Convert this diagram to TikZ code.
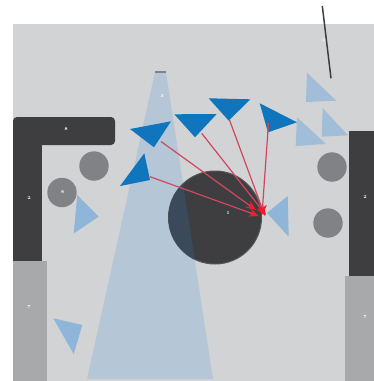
\documentclass[tikz,border=0pt]{standalone}
\usetikzlibrary{arrows.meta}
\definecolor{roombg}{HTML}{D1D3D5}
\definecolor{wall}{HTML}{3E3E40}
\definecolor{block}{HTML}{A7A9AB}
\definecolor{pillar}{HTML}{808285}
\definecolor{cone}{HTML}{B5C7D6}
\definecolor{conedark}{HTML}{3A4A5B}
\definecolor{agent}{HTML}{0F75BC}
\definecolor{ghost}{HTML}{8FB5D9}
\definecolor{ghostpale}{HTML}{A2BDD8}
\definecolor{ray}{HTML}{D2475F}
\definecolor{rayhead}{HTML}{EE1C2E}
\tikzset{
  tag/.style={white,font=\fontsize{4.5}{5}\selectfont\bfseries,inner sep=0pt},
  rayline/.style={ray,line width=1.2pt,-{Stealth[rayhead,length=10pt,width=8pt]}},
}
\begin{document}
\begin{tikzpicture}[x=1pt,y=-1pt]
\useasboundingbox (0,0) rectangle (374,381);
\fill[roombg] (13,24) rectangle (374,381);
\fill[cone] (155,72) -- (166,72) -- (213,379) -- (87,379) -- cycle;
\draw[pillar,line width=1.5pt] (155,72) -- (166,72);
\fill[wall,rounded corners=4pt] (13,117) rectangle (115,145);
\fill[wall] (13,125) rectangle (42,261);
\fill[wall] (349,131) rectangle (374,276);
\fill[block] (13,261) rectangle (47,381);
\fill[block] (345,276) rectangle (374,381);
\fill[pillar] (94,166) circle (14.7);
\fill[pillar] (62,192.5) circle (14.7);
\fill[pillar] (332,167) circle (14.7);
\fill[pillar] (328,223) circle (14.7);
\draw[fill=wall,draw=wall!88!white,line width=1pt] (215,217.5) circle (46.5);
\begin{scope}
  \clip (155,72) -- (166,72) -- (213,379) -- (87,379) -- cycle;
  \fill[conedark] (215,217.5) circle (46.5);
\end{scope}
\draw[wall,line width=1.5pt] (322.3,6) -- (331,78.3);
\fill[ghostpale] (307,72.7) -- (336.3,100.7) -- (306,102) -- cycle;
\fill[ghostpale] (322.7,108.3) -- (348,135.3) -- (321.7,136.7) -- cycle;
\fill[ghostpale] (297,117.3) -- (326,144) -- (295.7,146) -- cycle;
\fill[ghost] (77.3,195) -- (98.7,216.7) -- (73.7,233.3) -- cycle;
\fill[ghost] (53.3,318.3) -- (82.3,325) -- (73.7,354) -- cycle;
\fill[ghost] (287.7,196) -- (288.7,236.7) -- (267,213) -- cycle;
\fill[agent] (130,129) -- (171,121.3) -- (154,147.3) -- cycle;
\fill[agent] (120,186) -- (144.3,153.3) -- (150,180) -- cycle;
\fill[agent] (174.3,114.3) -- (216.7,114) -- (195,137.3) -- cycle;
\fill[agent] (208.7,98.3) -- (250.3,99.3) -- (228.7,120.7) -- cycle;
\fill[agent] (259.7,103.3) -- (297,122.3) -- (268,132.3) -- cycle;
\coordinate (tailA) at (150,176.7);
\coordinate (tailB) at (161,141.5);
\coordinate (tailC) at (201.7,133.3);
\coordinate (tailD) at (229.5,120);
\coordinate (tailE) at (268.5,123);
\coordinate (headA) at (259,216);
\coordinate (headB) at (256,210);
\coordinate (headC) at (266,215);
\coordinate (headD) at (265,216);
\coordinate (headE) at (262,215);
\draw[rayline] (tailA) -- (headA);
\draw[rayline] (tailB) -- (headB);
\draw[rayline] (tailC) -- (headC);
\draw[rayline] (tailD) -- (headD);
\draw[rayline] (tailE) -- (headE);
\node[tag] (wallTop) at (66,129) {8};
\node[tag] (wallLeft) at (29,198) {2};
\node[tag] (blockLeft) at (29,307) {7};
\node[tag] (pillarLeft) at (62.5,192.5) {8};
\node[tag] (coneTag) at (162,96) {3};
\node[tag] (bodyTag) at (228,213) {1};
\node[tag] (wallRight) at (365,197) {2};
\node[tag] (blockRight) at (365,317) {7};
\node[tag] (stickTag) at (323.7,40) {4};
\end{tikzpicture}
\end{document}
